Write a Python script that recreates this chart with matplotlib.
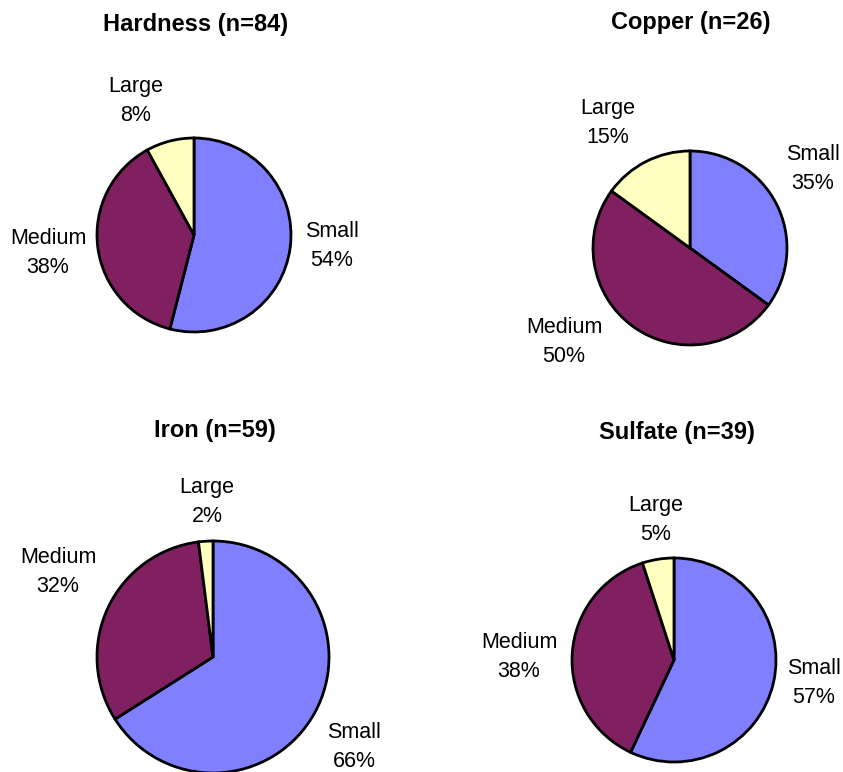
import matplotlib.pyplot as plt

plt.rcParams['font.family'] = ['Liberation Sans', 'DejaVu Sans']

categories = ['Small', 'Medium', 'Large']
titles = ['Hardness (n=84)', 'Copper (n=26)', 'Iron (n=59)', 'Sulfate (n=39)']
hardness = [54, 38, 8]
copper = [35, 50, 15]
iron = [66, 32, 2]
sulfate = [57, 38, 5]

colors = ['#8080FF', '#802060', '#FFFFC0']

W, H = 843, 772

# layout in pixels (from top-left): pie centre, radius, title pos, label centres
layout = [
    dict(c=(194, 235), r=97, t=(196, 25), lab=[(332, 246), (48, 253), (136, 101)]),
    dict(c=(690, 248), r=97, t=(691, 22), lab=[(813, 169), (564, 342), (608, 123)]),
    dict(c=(213, 657), r=116, t=(215, 430), lab=[(354, 747), (58, 572), (207, 502)]),
    dict(c=(674, 660), r=102, t=(677, 433), lab=[(814, 683), (519, 657), (656, 520)]),
]


def draw_pie(ax, values, title, lay):
    cx, cy = lay['c']
    ax.pie(values, colors=colors, startangle=90, counterclock=False,
           center=(cx, H - cy), radius=lay['r'], frame=True,
           wedgeprops=dict(edgecolor='black', linewidth=2.0))
    tx, ty = lay['t']
    ax.text(tx, H - ty, title, ha='center', va='center',
            fontsize=17, fontweight='bold')
    for name, val, (lx, ly) in zip(categories, values, lay['lab']):
        ax.text(lx, H - ly, f'{name}\n{val}%', ha='center', va='center',
                fontsize=15.5, linespacing=1.47)


fig = plt.figure(figsize=(W / 100, H / 100), dpi=100)
ax = fig.add_axes([0, 0, 1, 1])

for vals, title, lay in zip([hardness, copper, iron, sulfate], titles, layout):
    draw_pie(ax, vals, title, lay)

ax.set_xlim(0, W)
ax.set_ylim(0, H)
ax.set_aspect('equal')
ax.axis('off')

fig.savefig('out.png', dpi=100, facecolor='white')
